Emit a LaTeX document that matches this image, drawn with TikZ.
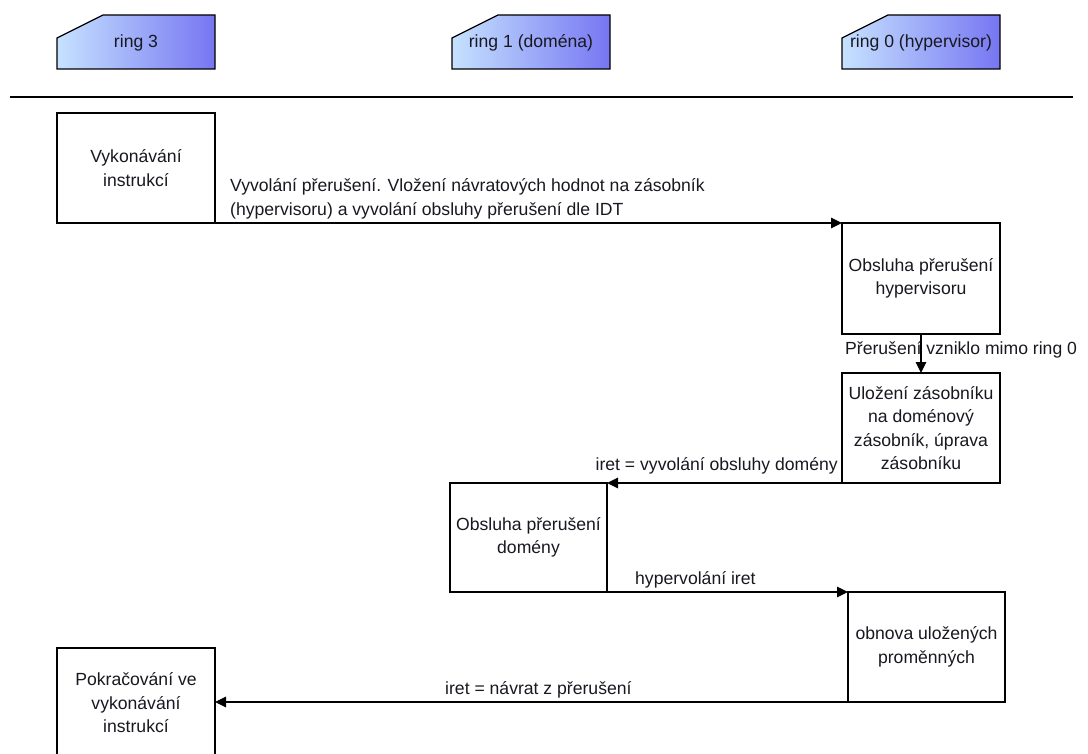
\documentclass[tikz,border=0pt]{standalone}
\usepackage{fontspec}
\setmainfont{Liberation Sans}
\usetikzlibrary{arrows.meta}
\definecolor{laneleft}{RGB}{198,226,255}
\definecolor{laneright}{RGB}{118,118,242}
\definecolor{ink}{RGB}{24,24,32}
\tikzset{
  txt/.style={font=\fontsize{17.6}{23.5}\selectfont},
  stepbox/.style={draw, line width=1.2pt, fill=white, minimum width=158pt,
    minimum height=110pt, inner sep=0pt, outer sep=0pt, align=center, text=ink, txt},
  lanehead/.style={draw, line width=1.2pt, left color=laneleft, right color=laneright},
  lanetext/.style={text=ink, txt},
  msg/.style={line width=1.2pt, -{Triangle[length=11pt,width=10.5pt]}},
  msglabel/.style={text=ink, inner sep=0pt, align=left, txt}
}
\begin{document}
\begin{tikzpicture}[x=1pt,y=-1pt]
\useasboundingbox (0,0) rectangle (1088,754);
\clip (0,0) rectangle (1088,754);

% lane headers with a cut top-left corner
\foreach \x/\name/\label in {57/h3/ring 3, 452/h1/ring 1 (doména), 842/h0/ring 0 (hypervisor)}{
  \path[lanehead] (\x,38) -- (\x+46,15) -- (\x+158,15) -- (\x+158,69) -- (\x,69) -- cycle;
  \node[lanetext] (\name) at (\x+79,43) {\label};
}

% separator below the headers
\draw[line width=1.2pt] (10,97) -- (1073,97);

% steps
\node[stepbox] (vyk) at (136,168) {Vykonávání\\instrukcí};
\node[stepbox, minimum height=111pt] (hyp) at (921,278.5) {Obsluha přerušení\\hypervisoru};
\node[stepbox] (ulo) at (921,428) {Uložení zásobníku\\na doménový\\zásobník, úprava\\zásobníku};
\node[stepbox, minimum width=157pt, minimum height=109pt] (dom) at (528.5,537.5) {Obsluha přerušení\\domény};
\node[stepbox, minimum width=157pt] (obn) at (926.5,647) {obnova uložených\\proměnných};
\node[stepbox] (pok) at (136,703) {Pokračování ve\\vykonávání\\instrukcí};

% messages
\draw[msg] (vyk.south east) -- (hyp.north west);
\node[msglabel, anchor=west] (l1) at (230,199)
  {Vyvolání přerušení. Vložení návratových hodnot na zásobník\\(hypervisoru) a vyvolání obsluhy přerušení dle IDT};

\draw[msg] (hyp.south) -- (ulo.north);
\node[msglabel, anchor=west] (l2) at (845,350) {Přerušení vzniklo mimo ring 0};

\draw[msg] (ulo.south west) -- (dom.north east);
\node[msglabel, anchor=east] (l3) at (838,466) {iret = vyvolání obsluhy domény};

\draw[msg] (dom.south east) -- (obn.north west);
\node[msglabel, anchor=west] (l4) at (635,580) {hypervolání iret};

\draw[msg] (obn.south west) -- (obn.south west -| pok.east);
\node[msglabel, anchor=west] (l5) at (445,690) {iret = návrat z přerušení};
\end{tikzpicture}
\end{document}
